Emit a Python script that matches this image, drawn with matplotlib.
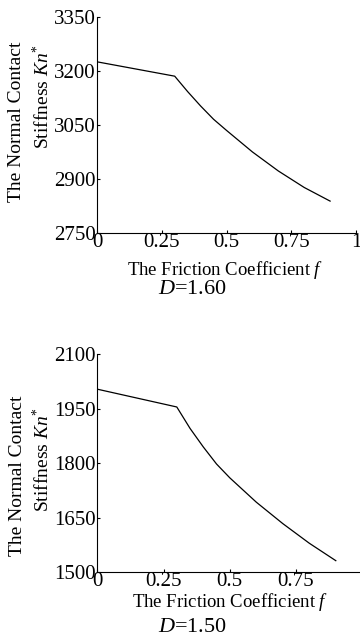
import matplotlib
matplotlib.use("Agg")
import matplotlib.pyplot as plt

plt.rcParams["font.family"] = ["Liberation Serif", "DejaVu Serif"]
plt.rcParams["mathtext.fontset"] = "custom"
plt.rcParams["mathtext.rm"] = "Liberation Serif"
plt.rcParams["mathtext.it"] = "Liberation Serif:italic"

# Friction coefficient values
friction = [0.0, 0.3, 0.35, 0.4, 0.45, 0.5, 0.6, 0.7, 0.8, 0.9]

# Normal contact stiffness Kn* for D = 1.60 and D = 1.50
kn_d160 = [3226, 3186, 3143, 3103, 3066, 3035, 2975, 2922, 2876, 2838]
kn_d150 = [2004, 1955, 1896, 1845, 1798, 1760, 1693, 1634, 1580, 1532]

xticks_top = [0, 0.25, 0.5, 0.75, 1]
xlabels_top = ["0", "0.25", "0.5", "0.75", "1"]
xticks_bottom = [0, 0.25, 0.5, 0.75]
xlabels_bottom = ["0", "0.25", "0.5", "0.75"]
yticks_top = [2750, 2900, 3050, 3200, 3350]
yticks_bottom = [1500, 1650, 1800, 1950, 2100]

W, H = 360, 639
fig = plt.figure(figsize=(W / 100, H / 100), dpi=100)


def px(x, y):
    # pixel position -> figure fraction
    return x / W, 1 - y / H


def setup_axes(ax, xticks, xlabels, yticks):
    ax.spines["top"].set_visible(False)
    ax.spines["right"].set_visible(False)
    for s in ("left", "bottom"):
        ax.spines[s].set_linewidth(0.8)
    ax.set_xlim(0, 1)
    ax.set_ylim(yticks[0], yticks[-1])
    ax.set_xticks(xticks)
    ax.set_xticklabels(xlabels)
    ax.set_yticks(yticks)
    ax.tick_params(direction="in", length=2.5, width=0.8, labelsize=15, pad=1)
    ax.tick_params(axis="x", pad=0)
    ax.patch.set_visible(False)


# top panel
ax1 = fig.add_axes([97 / W, 1 - 232.7 / H, 259 / W, 215.4 / H])
ax1.plot(friction, kn_d160, color="black", lw=0.9)
setup_axes(ax1, xticks_top, xlabels_top, yticks_top)

# bottom panel
ax2 = fig.add_axes([97.3 / W, 1 - 572.3 / H, 265 / W, 218 / H])
ax2.plot(friction, kn_d150, color="black", lw=0.9)
setup_axes(ax2, xticks_bottom, xlabels_bottom, yticks_bottom)

label_kw = dict(fontsize=14, ha="center", va="center")

# top panel labels
fig.text(*px(17, 121.5), "The Normal Contact", rotation=90, **label_kw)
fig.text(*px(43, 97), r"Stiffness $Kn^{*}$", rotation=90, **label_kw)
fig.text(*px(225, 270), r"The Friction Coefficient $f$", fontsize=13.5,
         ha="center", va="center")
fig.text(*px(192.5, 290), r"$D$=1.60", fontsize=16, ha="center", va="center")

# bottom panel labels
fig.text(*px(18, 475.5), "The Normal Contact", rotation=90, **label_kw)
fig.text(*px(43, 460), r"Stiffness $Kn^{*}$", rotation=90, **label_kw)
fig.text(*px(230.5, 602), r"The Friction Coefficient $f$", fontsize=13.5,
         ha="center", va="center")
fig.text(*px(192.5, 628), r"$D$=1.50", fontsize=16, ha="center", va="center")

fig.savefig("out.png", dpi=100)
